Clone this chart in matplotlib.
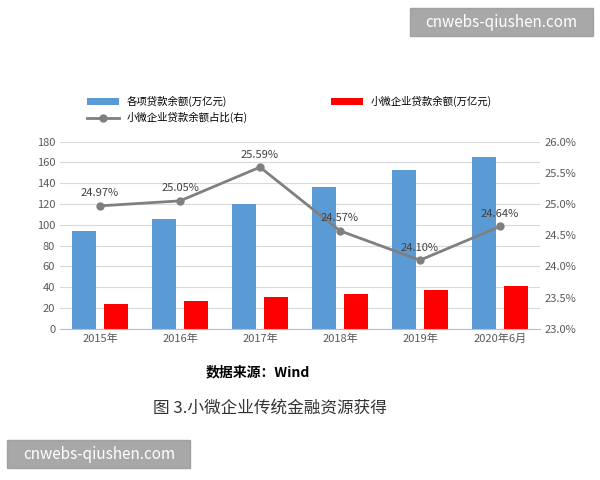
import matplotlib
matplotlib.use("Agg")
import matplotlib.pyplot as plt
import numpy as np
from matplotlib.patches import Rectangle

plt.rcParams['font.family'] = ['Noto Sans CJK SC', 'DejaVu Sans']

categories = ["2015年", "2016年", "2017年", "2018年", "2019年", "2020年6月"]
total_loans = [94, 106, 120, 136, 153, 165]
small_loans = [24, 27, 31, 33, 37, 41]
share_pct = [24.97, 25.05, 25.59, 24.57, 24.10, 24.64]
share_labels = ["24.97%", "25.05%", "25.59%", "24.57%", "24.10%", "24.64%"]

fig = plt.figure(figsize=(6, 4.8), dpi=100)
fig.patch.set_facecolor("white")
ax = fig.add_axes([0.10, 0.315, 0.80, 0.39])
ax.set_facecolor("white")
x = np.arange(len(categories))
w = 0.3
b1 = ax.bar(x - 0.2, total_loans, w, color="#5b9bd5", label="各项贷款余额(万亿元)")
b2 = ax.bar(x + 0.2, small_loans, w, color="#ff0000", label="小微企业贷款余额(万亿元)")
ax.set_ylim(0, 180)
ax.set_yticks(range(0, 181, 20))
ax.set_xlim(-0.5, 5.5)
ax.set_xticks(x)
ax.set_xticklabels(categories)
ax.grid(axis="y", color="#d9d9d9", lw=0.8)
ax.set_axisbelow(True)
for s in ax.spines.values():
    s.set_visible(False)
ax.spines["bottom"].set_visible(True)
ax.spines["bottom"].set_color("#bfbfbf")
ax.tick_params(length=0, labelsize=8, colors="#595959")

ax2 = ax.twinx()
ln, = ax2.plot(x, share_pct, color="#7f7f7f", lw=2, marker="o", ms=5, label="小微企业贷款余额占比(右)")
ax2.set_ylim(23.0, 26.0)
ax2.set_yticks(np.arange(23.0, 26.01, 0.5))
ax2.set_yticklabels([f"{v:.1f}%" for v in np.arange(23.0, 26.01, 0.5)])
for s in ax2.spines.values():
    s.set_visible(False)
ax2.tick_params(length=0, labelsize=8, colors="#595959")
for xi, yi, t in zip(x, share_pct, share_labels):
    ax2.text(xi, yi + 0.12, t, ha="center", va="bottom", fontsize=8, color="#404040")

fig.legend(handles=[b1, ln, b2], loc="upper left", bbox_to_anchor=(0.13, 0.82),
           ncol=2, frameon=False, fontsize=7.5, columnspacing=8, handlelength=3)

fig.text(0.43, 0.215, "数据来源：Wind", ha="center", fontsize=10, weight="bold")
fig.text(0.45, 0.14, "图 3.小微企业传统金融资源获得", ha="center", fontsize=12, color="#333333")

fig.patches.append(Rectangle((0.683, 0.925), 0.305, 0.058, transform=fig.transFigure, color="#999999", alpha=0.85))
fig.text(0.835, 0.954, "cnwebs-qiushen.com", ha="center", va="center", color="white", fontsize=11)
fig.patches.append(Rectangle((0.012, 0.025), 0.305, 0.058, transform=fig.transFigure, color="#999999", alpha=0.85))
fig.text(0.165, 0.054, "cnwebs-qiushen.com", ha="center", va="center", color="white", fontsize=11)

fig.savefig("out.png", dpi=100)
